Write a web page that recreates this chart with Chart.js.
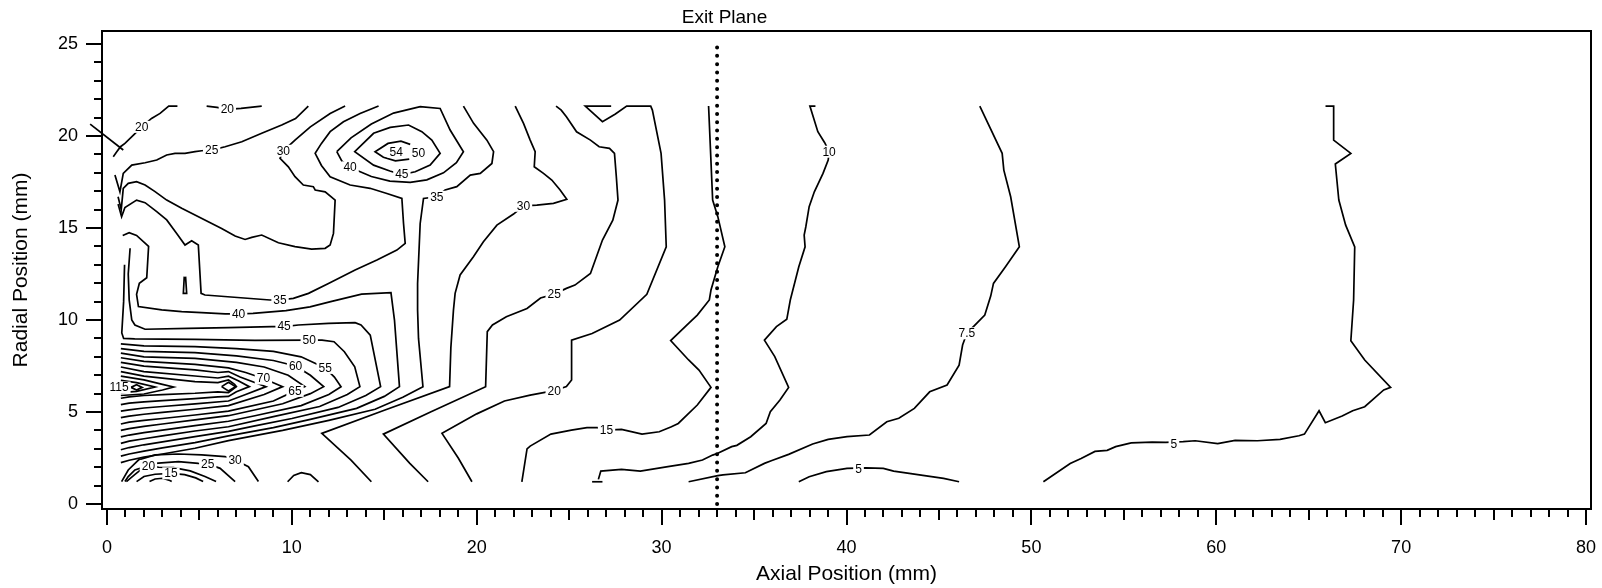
<!DOCTYPE html>
<html>
<head>
<meta charset="utf-8">
<script src="https://cdn.jsdelivr.net/npm/chart.js@4.4.1/dist/chart.umd.min.js"></script>
<style>
  body { margin: 0; background: #fff; }
  canvas { display: block; }
</style>
</head>
<body>
<canvas id="c" width="1602" height="588"></canvas>
<script>
// axes
var xTicks = [0, 10, 20, 30, 40, 50, 60, 70, 80];
var yTicks = [0, 5, 10, 15, 20, 25];
var exitPlaneX = 33.0;
var exitPlane = [[33.0, 0], [33.0, 25.1]];

// contour lines, [axial mm, radial mm]
var c5 = [[50.65,1.21],[52.1,2.2],[52.69,2.48],[53.44,2.86],[54.1,2.92],[54.56,3.12],[55.4,3.32],[56.53,3.37],[57.27,3.35],[58.21,3.39],[58.86,3.44],[60.08,3.28],[61.02,3.46],[62.23,3.44],[63.45,3.51],[64.47,3.71],[64.77,3.8],[65.56,5.07],[65.9,4.42],[66.81,4.78],[67.38,5.07],[68.03,5.29],[69.06,6.2],[69.43,6.34],[68.03,7.83],[67.28,8.88],[67.43,11.09],[67.49,13.98],[67.0,15.16],[66.63,16.52],[66.44,18.48],[67.28,19.06],[66.35,19.78],[66.35,21.63],[65.91,21.63]];
var c5b = [[37.42,1.21],[37.98,1.48],[38.91,1.76],[40.03,1.94],[41.06,1.97],[41.99,1.94],[42.55,1.79],[43.39,1.67],[44.13,1.56],[45.25,1.39],[46.09,1.21]];
var c7_5 = [[31.46,1.21],[33.04,1.54],[33.32,1.58],[34.53,1.7],[35.56,2.21],[35.93,2.35],[36.87,2.7],[38.17,3.26],[39.01,3.51],[40.03,3.66],[41.24,3.75],[42.18,4.47],[42.83,4.66],[43.67,5.2],[44.5,6.1],[45.44,6.47],[46.09,7.55],[46.28,8.64],[46.51,9.28],[47.48,10.27],[47.8,11.3],[47.95,11.99],[48.6,12.9],[49.35,13.98],[48.88,16.7],[48.51,18.15],[48.42,19.06],[47.21,21.63]];
var c10 = [[26.58,1.34],[26.71,1.79],[27.83,1.88],[28.85,1.79],[30.34,2.03],[31.46,2.21],[32.21,2.39],[32.76,2.66],[33.04,2.76],[33.79,3.12],[34.07,3.19],[34.82,3.66],[35.65,4.38],[35.88,5.02],[36.4,5.65],[36.87,6.34],[36.12,8.01],[35.56,8.91],[36.21,9.64],[36.77,10.04],[36.96,11.09],[37.42,12.9],[37.76,13.98],[37.71,14.62],[37.8,15.07],[37.98,16.16],[38.26,16.97],[38.73,17.97],[39.01,18.7],[39.06,19.15],[38.82,19.64],[38.45,20.24],[38.02,21.63],[38.32,21.63]];
var c10foot = [[26.24,1.21],[26.8,1.21]];
var c15 = [[22.44,1.21],[22.72,3.0],[22.89,3.15],[24.01,3.8],[25.12,4.02],[25.96,4.15],[26.52,4.15],[27.02,4.02],[27.83,4.06],[28.94,3.8],[29.87,3.93],[30.53,4.2],[30.9,4.38],[31.93,5.38],[32.67,6.34],[32.02,7.28],[31.46,7.83],[30.49,8.88],[31.46,9.82],[31.93,10.27],[32.58,11.09],[32.67,11.63],[33.04,12.9],[33.42,13.98],[33.04,15.62],[32.76,16.52],[32.54,21.63]];
var c20 = [[19.74,1.21],[19.0,2.5],[18.12,3.84],[20.0,4.9],[21.5,5.6],[22.89,5.92],[24.19,6.16],[24.85,6.38],[25.13,6.74],[25.13,8.91],[26.24,9.27],[27.73,10.0],[29.2,11.4],[30.25,13.98],[30.16,16.52],[29.97,19.06],[29.5,21.41],[29.41,21.63],[28.11,21.63],[27.5,21.2],[26.8,20.78],[25.87,21.63],[27.27,21.63]];
var c25 = [[17.37,1.21],[16.38,2.21],[14.95,3.8],[17.5,5.0],[20.48,6.38],[20.57,9.37],[20.85,9.73],[21.6,10.18],[22.72,10.63],[23.45,11.2],[24.19,11.41],[24.85,11.72],[25.31,11.9],[26.15,12.53],[26.8,14.35],[27.36,15.43],[27.64,16.52],[27.55,17.79],[27.45,19.06],[27.18,19.33],[26.62,19.42],[26.15,19.78],[25.4,20.23],[24.85,21.05],[24.57,21.41],[24.29,21.63]];
var c30 = [[14.3,1.21],[13.2,2.39],[11.62,3.84],[15.0,5.1],[18.53,6.38],[18.6,8.5],[18.74,10.54],[18.83,11.45],[19.1,12.45],[19.82,13.44],[20.36,14.26],[21.09,15.16],[21.99,15.76],[22.53,16.21],[23.25,16.25],[24.15,16.34],[24.87,16.56],[24.51,17.07],[24.06,17.61],[23.61,17.97],[23.11,18.33],[23.16,19.15],[22.89,19.78],[22.53,20.69],[22.08,21.63]];
var c35 = [[0.6,16.3],[0.79,15.62],[0.97,16.12],[1.6,16.52],[2.06,16.38],[2.69,15.89],[3.23,15.44],[3.77,14.71],[4.22,14.08],[4.58,14.31],[4.94,14.08],[5.09,11.45],[5.3,11.36],[8.82,11.09],[9.36,11.09],[10.08,11.18],[10.9,11.45],[11.98,11.99],[13.42,12.72],[14.6,13.26],[15.68,13.8],[16.13,14.17],[16.04,15.25],[15.95,16.61],[15.14,16.88],[14.23,17.16],[13.15,17.34],[12.07,17.79],[11.6,18.4],[11.26,19.06],[11.6,19.6],[12.07,20.24],[12.79,20.78],[13.69,21.23],[14.69,21.63]];
var c35b = [[19.28,21.63],[19.83,20.69],[20.55,19.78],[20.91,19.15],[20.82,18.51],[20.19,17.97],[19.65,17.88],[18.92,17.25],[18.29,17.07],[17.84,16.7],[17.12,16.61],[16.94,15.25],[16.8,11.99],[16.8,10.54],[16.85,9.0],[17.09,6.38],[16.0,5.8],[14.5,5.15],[12.0,4.55],[9.5,4.0],[6.57,3.45],[4.76,3.03],[3.0,2.72],[2.0,2.55],[1.2,2.38],[0.75,2.25]];
var c40 = [[0.85,14.6],[1.2,14.75],[1.6,14.6],[2.25,14.0],[2.15,12.3],[1.75,12.0],[1.6,11.4],[1.7,10.73],[2.96,10.55],[4.04,10.46],[5.12,10.4],[6.39,10.33],[7.12,10.33],[7.9,10.36],[9.68,10.51],[10.98,10.72],[12.1,11.0],[13.77,11.41],[15.36,11.49],[15.55,10.0],[15.82,6.38],[15.0,5.85],[13.5,5.2],[11.0,4.6],[9.0,4.15],[6.57,3.7],[4.76,3.34],[3.0,3.05],[2.0,2.88],[1.2,2.72],[0.75,2.6]];
var c45 = [[1.25,13.9],[1.15,12.5],[1.2,11.1],[1.34,10.0],[1.51,9.73],[2.06,9.5],[4.4,9.55],[6.57,9.59],[8.91,9.64],[9.58,9.64],[10.35,9.73],[11.98,9.82],[13.42,9.86],[13.74,9.73],[14.24,9.18],[14.8,6.38],[14.0,5.9],[12.5,5.25],[10.0,4.65],[8.0,4.25],[6.57,3.95],[4.76,3.66],[3.0,3.38],[2.0,3.22],[1.2,3.07],[0.75,2.95]];
var c50 = [[0.95,13.0],[0.9,11.0],[0.8,9.3],[0.9,9.0],[1.5,8.98],[4.76,8.95],[8.0,8.9],[10.94,8.91],[11.63,8.91],[12.28,8.82],[12.84,8.28],[13.4,7.46],[13.68,6.38],[13.0,5.95],[11.5,5.3],[9.0,4.75],[6.57,4.2],[4.76,3.97],[3.0,3.7],[2.0,3.55],[1.2,3.42],[0.75,3.3]];
var c55 = [[0.75,8.7],[2.0,8.6],[4.76,8.55],[7.0,8.45],[9.0,8.3],[10.5,8.0],[11.8,7.4],[12.3,6.9],[12.66,6.38],[12.0,5.95],[10.5,5.35],[8.0,4.8],[6.57,4.5],[4.76,4.26],[3.0,4.02],[2.0,3.88],[1.2,3.75],[0.75,3.65]];
var c60 = [[0.75,8.45],[2.0,8.3],[4.76,8.23],[7.0,8.05],[9.0,7.8],[10.2,7.5],[11.0,7.0],[11.72,6.38],[11.0,6.0],[9.5,5.45],[6.57,4.8],[4.76,4.57],[3.0,4.35],[2.0,4.22],[1.2,4.1],[0.75,4.0]];
var c65 = [[0.75,8.2],[2.0,8.0],[4.76,7.92],[7.0,7.7],[8.5,7.45],[9.8,7.0],[10.7,6.38],[10.17,6.15],[9.0,5.6],[6.57,5.05],[4.76,4.84],[3.0,4.65],[2.0,4.55],[1.2,4.45],[0.75,4.35]];
var c70 = [[0.75,7.95],[2.0,7.75],[4.76,7.59],[6.57,7.4],[7.5,7.15],[8.46,6.82],[9.5,6.38],[8.5,5.95],[6.57,5.35],[4.76,5.15],[3.0,4.98],[2.0,4.88],[1.2,4.78],[0.75,4.7]];
var c75 = [[0.75,7.7],[2.0,7.5],[4.76,7.29],[6.0,7.15],[6.57,7.2],[7.2,6.9],[8.6,6.38],[7.5,5.95],[6.57,5.6],[4.76,5.44],[3.0,5.3],[2.0,5.22],[1.2,5.12],[0.75,5.05]];
var c80 = [[0.75,7.45],[2.0,7.2],[4.76,6.96],[6.0,6.85],[6.57,6.95],[7.1,6.7],[7.7,6.38],[7.0,6.1],[6.57,5.85],[6.0,5.82],[4.76,5.73],[3.0,5.62],[2.0,5.55],[1.2,5.48],[0.75,5.4]];
var c85 = [[0.75,7.2],[2.0,6.95],[4.76,6.65],[6.0,6.6],[6.57,6.75],[6.9,6.5],[7.0,6.38],[6.57,6.05],[6.0,6.1],[4.76,6.02],[3.0,5.95],[2.0,5.9],[1.2,5.82],[0.75,5.75]];
var c90 = [[6.2,6.38],[6.57,6.62],[6.95,6.38],[6.57,6.15],[6.2,6.38]];
var c95 = [[0.75,6.95],[2.0,6.75],[3.0,6.5],[3.6,6.36],[3.0,6.2],[2.0,5.98],[0.75,5.9]];
var c105 = [[0.75,6.72],[1.6,6.6],[2.6,6.36],[1.6,6.12],[0.75,6.05]];
var c110 = [[1.3,6.34],[1.6,6.48],[1.9,6.34],[1.6,6.2],[1.3,6.34]];
var c40ring = [[12.43,19.15],[13.2,19.9],[14.3,20.65],[15.5,21.25],[16.94,21.6],[18.02,21.5],[18.56,20.33],[19.28,19.15],[18.9,18.55],[18.2,18.0],[17.3,17.62],[16.4,17.48],[15.3,17.55],[14.3,17.8],[13.6,18.1],[13.15,18.3],[12.7,18.65],[12.43,19.15]];
var c45ring = [[15.3,18.1],[14.42,18.42],[13.4,19.15],[14.42,20.15],[15.32,20.47],[16.31,20.6],[17.03,20.24],[17.57,19.78],[18.02,19.06],[17.48,18.42],[16.67,18.06],[15.95,17.9],[15.3,18.1]];
var c54ring = [[16.4,19.55],[15.9,19.72],[15.2,19.6],[14.5,19.15],[14.95,18.85],[15.6,18.65],[16.35,18.75]];
var c20top = [[0.34,18.88],[0.5,19.1],[0.73,19.42],[0.97,19.6],[1.43,20.05],[1.88,20.5],[2.41,20.96],[2.87,21.23],[3.34,21.63],[3.81,21.63]];
var c20top2 = [[5.39,21.63],[5.95,21.56],[6.51,21.45],[7.25,21.5],[8.37,21.63]];
var c25top = [[0.43,17.88],[0.7,16.97],[0.88,17.97],[1.34,18.42],[2.06,18.55],[2.69,18.7],[3.23,18.97],[3.68,19.06],[4.22,19.06],[4.76,19.15],[5.12,19.2],[5.66,19.24],[6.39,19.42],[7.29,19.69],[8.37,20.15],[9.45,20.6],[10.2,20.95],[10.89,21.63]];
var c30top = [[0.6,16.7],[0.77,16.0],[0.88,17.16],[1.15,17.43],[1.6,17.52],[2.06,17.34],[2.6,16.98],[3.23,16.52],[4.04,16.07],[4.76,15.71],[5.48,15.34],[6.2,14.98],[6.93,14.57],[7.47,14.38],[7.83,14.49],[8.37,14.62],[9.27,14.2],[10.17,13.99],[11.07,13.86],[11.8,13.9],[12.07,14.08],[12.25,14.71],[12.34,16.52],[11.8,16.97],[11.26,17.07],[11.16,17.25],[10.62,17.34],[10.17,17.79],[9.81,18.33],[9.36,18.79],[9.54,19.2],[10.2,19.8],[11.0,20.5],[12.07,21.23],[12.88,21.63]];
var sliver = [[4.18,12.36],[4.13,11.45],[4.31,11.45],[4.25,12.36]];
var c30low = [[0.79,1.22],[1.15,1.85],[1.7,2.39],[2.6,2.67],[3.86,2.72],[5.12,2.67],[6.38,2.58],[6.93,2.39],[7.65,2.03],[8.19,1.22]];
var c25low = [[0.97,1.22],[1.15,1.49],[1.51,1.85],[2.6,2.21],[3.86,2.3],[4.94,2.21],[5.45,2.18],[6.12,1.94],[6.93,1.22]];
var c20low = [[1.05,1.22],[1.5,1.6],[1.9,1.92],[2.24,2.07],[2.8,2.0],[3.6,1.98],[4.5,1.8],[5.3,1.5],[5.9,1.22]];
var c15low = [[1.6,1.22],[2.0,1.5],[2.6,1.62],[3.46,1.67],[4.2,1.6],[4.8,1.42],[5.2,1.22]];
var c10low = [[2.3,1.22],[2.6,1.36],[3.0,1.4],[3.35,1.3],[3.5,1.22]];
var bump = [[9.77,1.21],[10.1,1.55],[10.51,1.7],[11.0,1.6],[11.44,1.21]];
// short stroke that runs past the left frame
var cornerStroke = [[-0.91,20.65],[0.88,19.24]];

var contours = [c5, c5b, c7_5, c10, c10foot, c15, c20, c25, c30, c35, c35b, c40, c45, c50, c55, c60, c65, c70, c75, c80, c85, c90, c95, c105, c110,
  c40ring, c45ring, c54ring, c20top, c20top2, c25top, c30top, sliver, c30low, c25low, c20low, c15low, c10low, bump];

// contour value labels [x, y, text]
var contourLabels = [
  [57.71,3.26,'5'], [40.65,1.9,'5'], [46.51,9.28,'7.5'], [39.06,19.15,'10'], [27.02,4.02,'15'],
  [24.19,6.16,'20'], [24.19,11.41,'25'], [22.53,16.21,'30'], [17.84,16.7,'35'], [13.15,18.3,'40'],
  [15.95,17.95,'45'], [16.85,19.06,'50'], [15.64,19.15,'54'], [9.54,19.2,'30'], [5.66,19.24,'25'],
  [1.88,20.5,'20'], [6.51,21.45,'20'], [9.36,11.09,'35'], [7.12,10.33,'40'], [9.58,9.64,'45'],
  [10.94,8.91,'50'], [11.8,7.4,'55'], [10.2,7.5,'60'], [8.46,6.82,'70'], [10.17,6.15,'65'],
  [0.65,6.33,'115'], [2.24,2.07,'20'], [3.46,1.67,'15'], [5.45,2.18,'25'], [6.93,2.39,'30']
];

var FONT = '"Liberation Sans", Arial, Helvetica, sans-serif';

function toPts(seg) {
  return seg.map(function (p) { return { x: p[0], y: p[1] }; });
}

var datasets = contours.map(function (seg) {
  return {
    data: toPts(seg),
    showLine: true, borderColor: '#000', borderWidth: 1.7, pointRadius: 0, tension: 0, fill: false
  };
});
datasets.push({
  data: toPts(cornerStroke), clip: false,
  showLine: true, borderColor: '#000', borderWidth: 1.7, pointRadius: 0, fill: false
});
datasets.push({
  data: toPts(exitPlane),
  showLine: true, borderColor: '#000', borderWidth: 4, borderDash: [0, 8.3], borderCapStyle: 'round',
  pointRadius: 0, fill: false
});

var extras = {
  id: 'extras',
  afterDatasetsDraw: function (chart) {
    var ctx = chart.ctx, xs = chart.scales.x, ys = chart.scales.y;
    ctx.save();
    ctx.font = '12px ' + FONT;
    ctx.textAlign = 'center';
    ctx.textBaseline = 'middle';
    contourLabels.forEach(function (l) {
      var px = xs.getPixelForValue(l[0]), py = ys.getPixelForValue(l[1]);
      var w = ctx.measureText(l[2]).width;
      ctx.fillStyle = '#fff';
      ctx.fillRect(px - w / 2 - 2, py - 6, w + 4, 12);
      ctx.fillStyle = '#000';
      ctx.fillText(l[2], px, py + 0.5);
    });
    ctx.restore();
  },
  afterDraw: function (chart) {
    var ctx = chart.ctx, a = chart.chartArea, xs = chart.scales.x, ys = chart.scales.y;
    ctx.save();
    ctx.strokeStyle = '#000';
    ctx.lineWidth = 2;
    ctx.strokeRect(a.left, a.top, a.right - a.left, a.bottom - a.top);
    ctx.beginPath();
    for (var v = 0; v <= 80; v++) {
      var px = Math.round(xs.getPixelForValue(v));
      var len = v % 10 === 0 ? 16 : (v % 5 === 0 ? 11 : 8);
      ctx.moveTo(px, a.bottom);
      ctx.lineTo(px, a.bottom + len);
    }
    for (var u = 0; u <= 25; u++) {
      var py = Math.round(ys.getPixelForValue(u));
      var ln = u % 5 === 0 ? 16 : 8;
      ctx.moveTo(a.left, py);
      ctx.lineTo(a.left - ln, py);
    }
    ctx.stroke();
    ctx.fillStyle = '#000';
    ctx.font = '19px ' + FONT;
    ctx.textAlign = 'center';
    ctx.textBaseline = 'middle';
    ctx.fillText('Exit Plane', xs.getPixelForValue(exitPlaneX + 0.4), 18);
    ctx.restore();
  }
};

new Chart(document.getElementById('c'), {
  type: 'scatter',
  data: { datasets: datasets },
  options: {
    responsive: false,
    animation: false,
    devicePixelRatio: 1,
    layout: { padding: { top: 31, right: 11, left: 0, bottom: 0 } },
    plugins: { legend: { display: false }, tooltip: { enabled: false } },
    scales: {
      x: {
        type: 'linear', min: -0.27, max: 80.27,
        afterBuildTicks: function (s) { s.ticks = xTicks.map(function (v) { return { value: v }; }); },
        afterFit: function (s) { s.height = 79; s.paddingLeft = 0; s.paddingRight = 0; },
        grid: { display: false, drawTicks: false },
        border: { display: false },
        ticks: { color: '#000', font: { family: FONT, size: 18 }, padding: 28, maxRotation: 0, autoSkip: false },
        title: { display: true, text: 'Axial Position (mm)', color: '#000', font: { family: FONT, size: 21 }, padding: { top: 0, bottom: 1 } }
      },
      y: {
        type: 'linear', min: -0.27, max: 25.71,
        afterBuildTicks: function (s) { s.ticks = yTicks.map(function (v) { return { value: v }; }); },
        afterFit: function (s) { s.width = 102; s.paddingTop = 0; s.paddingBottom = 0; },
        grid: { display: false, drawTicks: false },
        border: { display: false },
        ticks: { color: '#000', font: { family: FONT, size: 18 }, padding: 24, autoSkip: false },
        title: { display: true, text: 'Radial Position (mm)', color: '#000', font: { family: FONT, size: 21 }, padding: { top: 9, bottom: 0 } }
      }
    }
  },
  plugins: [extras]
});
</script>
</body>
</html>
